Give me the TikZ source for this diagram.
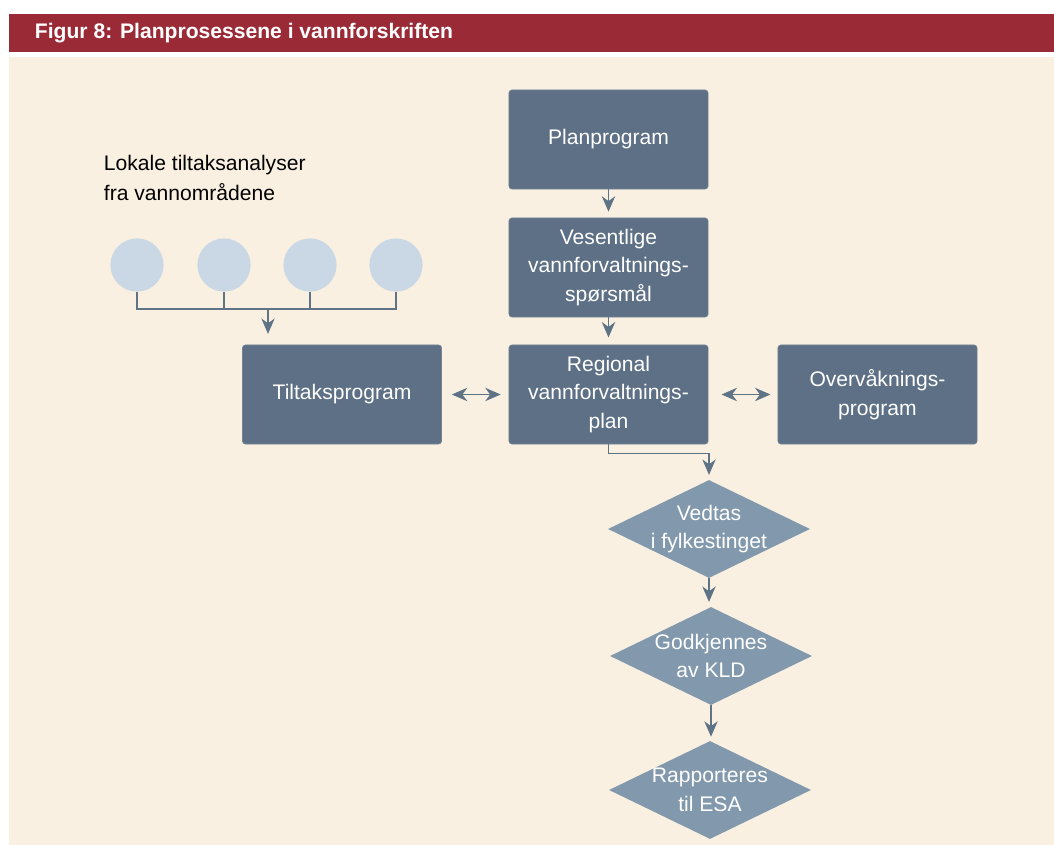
\documentclass[tikz,border=0pt]{standalone}
\usepackage{fontspec}
\setmainfont{Liberation Sans}
\usetikzlibrary{shapes.geometric,arrows.meta}
\definecolor{headred}{HTML}{9A2A36}
\definecolor{paper}{HTML}{F9F0E1}
\definecolor{boxblue}{HTML}{5D7085}
\definecolor{diablue}{HTML}{8299AD}
\definecolor{pondblue}{HTML}{CAD8E5}
\definecolor{linkgray}{HTML}{5F7386}
\begin{document}
\begin{tikzpicture}[x=0.025cm, y=-0.025cm,
    box/.style={rectangle, rounded corners=2pt, fill=boxblue, draw=boxblue!85!white, text=white, minimum width=4.975cm, minimum height=2.475cm, font=\fontsize{15}{20.5}\selectfont, align=center},
    dia/.style={diamond, fill=diablue, text=white, minimum width=5.05cm, minimum height=2.45cm, inner sep=-0.5cm, font=\fontsize{15}{20.5}\selectfont, align=center},
    pond/.style={circle, fill=pondblue, minimum size=1.33cm, inner sep=0pt},
    link/.style={draw=linkgray, line width=1pt},
    flow/.style={link, -{Stealth[length=11pt, width=9.5pt, inset=3.5pt]}},
    both/.style={link, {Stealth[length=11pt, width=9.5pt, inset=3.5pt]}-{Stealth[length=11pt, width=9.5pt, inset=3.5pt]}}
  ]
    \fill[white] (0,0) rectangle (1054,845);
    \fill[headred] (9,14) rectangle (1054,52);
    \fill[paper] (9,57) rectangle (1054,845);
    \node[anchor=west, text=white, font=\fontsize{15}{18}\selectfont\bfseries] (title) at (30,33) {Figur 8: Planprosessene i vannforskriften};
    % lokale analyser
    \node[anchor=west, align=left, font=\fontsize{15}{21}\selectfont] (lokal) at (99,178) {Lokale tiltaksanalyser\\fra vannområdene};
    \node[pond] (c1) at (137,265) {};
    \node[pond] (c2) at (224,265) {};
    \node[pond] (c3) at (310,265) {};
    \node[pond] (c4) at (396,265) {};
    \coordinate (join) at (268,309);
    % prosess
    \node[box] (plan) at (608.5,139.5) {Planprogram};
    \node[box] (vesent) at (608.5,267.5) {Vesentlige\\vannforvaltnings-\\spørsmål};
    \node[box] (region) at (608.5,394.5) {Regional\\vannforvaltnings-\\plan};
    \node[box] (tiltak) at (342,394.5) {Tiltaksprogram};
    \node[box] (overv) at (877.5,394.5) {Overvåknings-\\program};
    \node[dia] (vedtas) at (709,529) {Vedtas\\i fylkestinget};
    \node[dia] (godkj) at (711,656) {Godkjennes\\av KLD};
    \node[dia] (rapport) at (710,790) {Rapporteres\\til ESA};
    % koblinger
    \draw[link] (c1.south) |- (c4.south |- join) -- (c4.south);
    \draw[link] (c2.south) -- (c2.south |- join);
    \draw[link] (c3.south) -- (c3.south |- join);
    \draw[flow, shorten >=0.27cm] (join) -- (join |- tiltak.north);
    \draw[flow, shorten >=0.15cm] (plan) -- (vesent);
    \draw[flow, shorten >=0.18cm] (vesent) -- (region);
    \draw[both, shorten <=0.25cm, shorten >=0.2cm] (tiltak) -- (region);
    \draw[both, shorten <=0.33cm, shorten >=0.18cm] (region) -- (overv);
    \draw[flow, shorten >=0.12cm] (region.south) -- ++(0,9) -| (vedtas.north);
    \draw[flow, shorten >=0.12cm] (vedtas) -- (vedtas |- godkj.north);
    \draw[flow, shorten >=0.1cm] (godkj) -- (godkj |- rapport.north);
  \end{tikzpicture}
\end{document}
